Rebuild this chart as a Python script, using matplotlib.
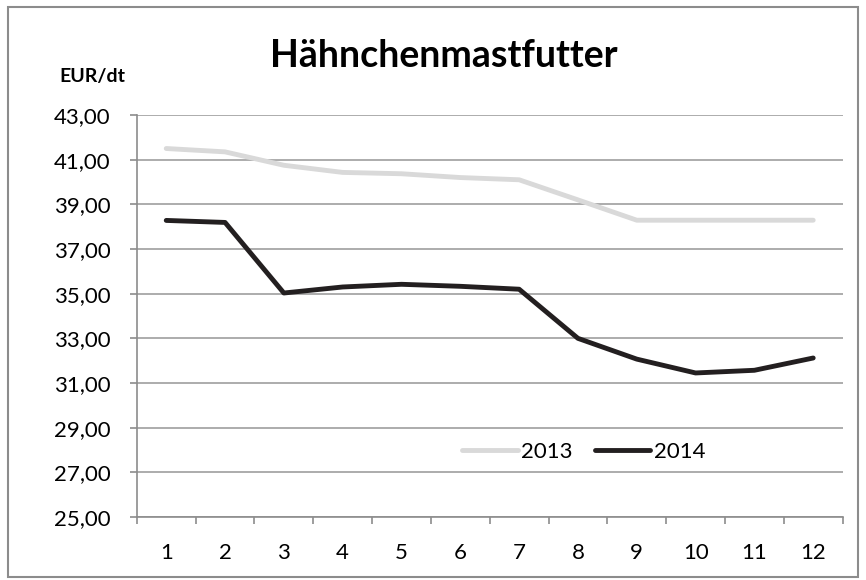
import numpy as np
import matplotlib.pyplot as plt
from matplotlib.ticker import FuncFormatter, FixedLocator
from matplotlib.patches import Rectangle

plt.rcParams['font.family'] = ['Lato', 'DejaVu Sans']

months = [1, 2, 3, 4, 5, 6, 7, 8, 9, 10, 11, 12]
price_2013 = [41.50, 41.35, 40.75, 40.43, 40.37, 40.20, 40.10, 39.20, 38.29, 38.29, 38.29, 38.29]
price_2014 = [38.28, 38.19, 35.03, 35.30, 35.42, 35.33, 35.20, 33.00, 32.07, 31.45, 31.57, 32.12]
y_ticks = [25, 27, 29, 31, 33, 35, 37, 39, 41, 43]

fig = plt.figure(figsize=(8.66, 5.80), dpi=100)
ax = fig.add_axes([0.158, 0.1086, 0.815, 0.6931])

# outer frame of the chart
fig.patches.append(Rectangle((0.009, 0.006), 0.982, 0.982, transform=fig.transFigure,
                             fill=False, edgecolor='#8c8c8c', linewidth=1.5))

ax.plot(months, price_2013, color='#d9d9d9', linewidth=3.5, solid_capstyle='round', label='2013')
ax.plot(months, price_2014, color='#231f20', linewidth=3.5, solid_capstyle='round', label='2014')

ax.set_xlim(0.5, 12.5)
ax.set_ylim(25, 43)
ax.yaxis.set_major_locator(FixedLocator(y_ticks))
ax.yaxis.set_major_formatter(FuncFormatter(lambda v, p: f'{v:.2f}'.replace('.', ',')))
ax.grid(axis='y', color='#a6a6a6', linewidth=1.3)
ax.set_axisbelow(True)

ax.set_xticks(months)
ax.xaxis.set_minor_locator(FixedLocator(np.arange(0.5, 13, 1)))
ax.tick_params(axis='x', which='major', length=0, pad=19, labelsize=16)
ax.tick_params(axis='x', which='minor', length=5, width=1.2, color='#8c8c8c', direction='out')
ax.tick_params(axis='y', length=5, width=1.2, color='#8c8c8c', labelsize=16, pad=14)

for s in ['top', 'right']:
    ax.spines[s].set_visible(False)
for s in ['left', 'bottom']:
    ax.spines[s].set_color('#8c8c8c')
    ax.spines[s].set_linewidth(1.2)

ax.legend(loc='center', bbox_to_anchor=(0.633, 0.162), ncol=2, frameon=False,
          fontsize=16, handlelength=2.5, handletextpad=0.15, columnspacing=1.0)

fig.text(0.512, 1 - 67 / 580, 'Hähnchenmastfutter', fontsize=27, fontweight='bold',
         ha='center', va='baseline')
fig.text(0.107, 1 - 82 / 580, 'EUR/dt', fontsize=14, fontweight='bold', ha='center', va='baseline')

fig.savefig('out.png', dpi=100)
